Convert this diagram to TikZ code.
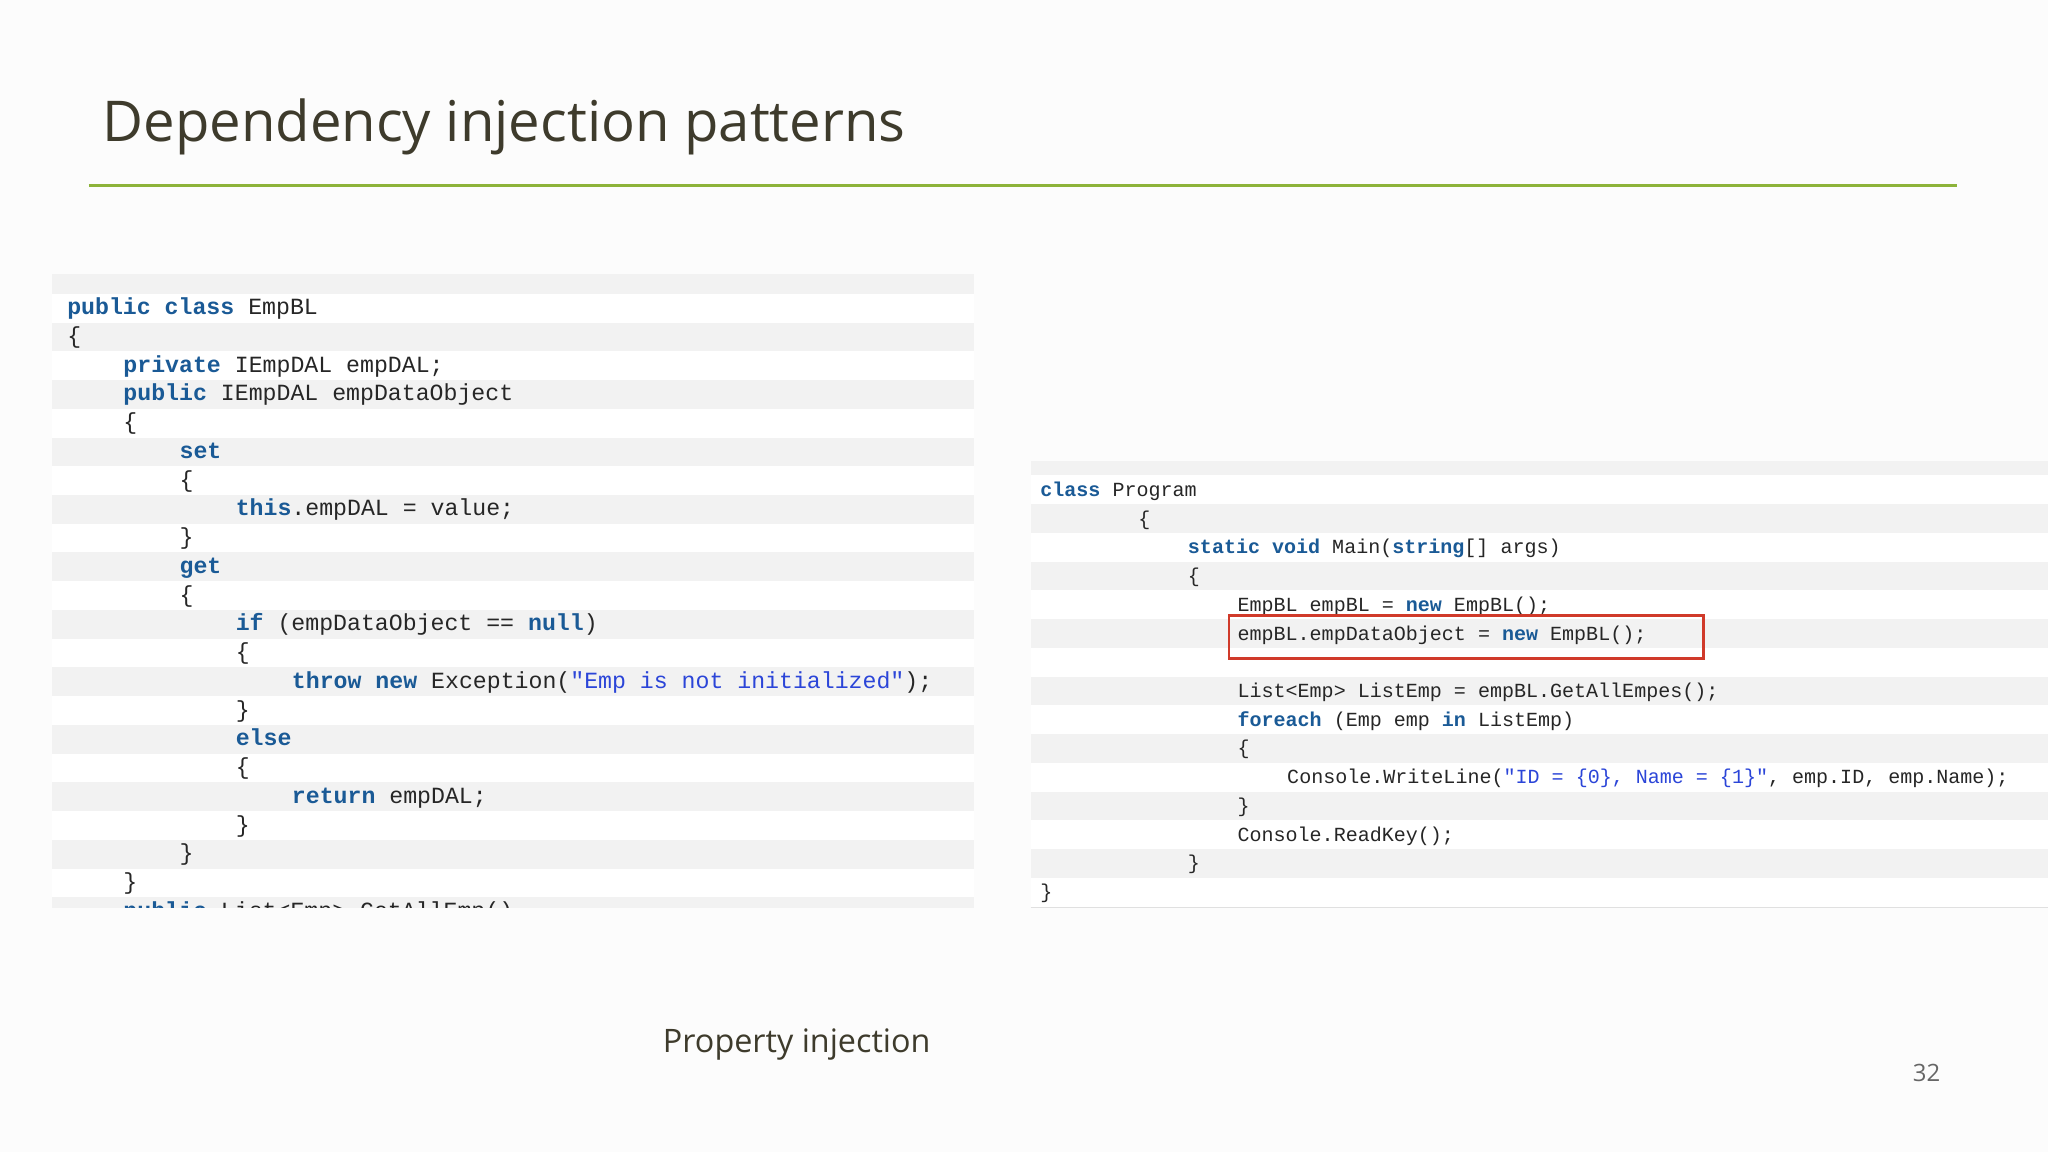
\documentclass[tikz,border=0pt]{standalone}
\usepackage{fontspec}
\setmainfont{Open Sans}
\setmonofont{Liberation Mono}
\definecolor{kwc}{HTML}{1A5A96}
\definecolor{stc}{HTML}{2B45D8}
\definecolor{band}{HTML}{F2F2F2}
\definecolor{titlec}{HTML}{3E3B2C}
\definecolor{greenl}{HTML}{8DB33A}
\definecolor{redb}{HTML}{D03A2A}
\newcommand{\kw}[1]{\textcolor{kwc}{\bfseries #1}}
\newcommand{\st}[1]{\textcolor{stc}{#1}}
\tikzset{code/.style={anchor=base west,inner sep=0pt,font=\fontsize{6.6}{7}\ttfamily,text=black!85},
 rcode/.style={code,font=\fontsize{5.7}{7}\ttfamily}}
\begin{document}
\begin{tikzpicture}[x=0.01306cm,y=-0.01306cm]
\useasboundingbox (0,0) rectangle (1568,882);
\fill[white!98!gray] (0,0) rectangle (1568,882);
\node[anchor=base west,inner sep=0pt,font=\fontsize{16}{18}\selectfont,text=titlec] (title) at (78,108) {Dependency injection patterns};
\coordinate (gl) at (68,142); \coordinate (gr) at (1498,142);
\draw[greenl,line width=1.1pt] (gl) -- (gr);
% left panel
\fill[white] (40,210) rectangle (746,695);
\fill[band] (40,210) rectangle (746,225);
\foreach \i in {1,3,...,19} \fill[band] (40,{236+22*\i-11}) rectangle (746,{236+22*\i+11});
\begin{scope}
\clip (40,200) rectangle (746,695);
\fill[band] (40,{236+22*21-11}) rectangle (746,695);
\foreach \i/\l/\t in {
0/0/{\kw{public class} EmpBL},
1/0/{\{},
2/1/{\kw{private} IEmpDAL empDAL;},
3/1/{\kw{public} IEmpDAL empDataObject},
4/1/{\{},
5/2/{\kw{set}},
6/2/{\{},
7/3/{\kw{this}.empDAL = value;},
8/2/{\}},
9/2/{\kw{get}},
10/2/{\{},
11/3/{\kw{if} (empDataObject == \kw{null})},
12/3/{\{},
13/4/{\kw{throw new} Exception(\st{"Emp is not initialized"});},
14/3/{\}},
15/3/{\kw{else}},
16/3/{\{},
17/4/{\kw{return} empDAL;},
18/3/{\}},
19/2/{\}},
20/1/{\}},
21/1/{\kw{public} List<Emp> GetAllEmp()}}
  \node[code] (l\i) at ({51+43*\l},{236+22*\i+5}) {\t};
\end{scope}
% right panel
\fill[white] (789,353) rectangle (1568,695);
\fill[band] (789,353) rectangle (1568,364);
\foreach \i in {1,3,...,13} \fill[band] (789,{375+22*\i-11}) rectangle (1568,{375+22*\i+11});
\draw[black!12] (789,695) -- (1568,695);
\foreach \i/\x/\t in {
0/796/{\kw{class} Program},
1/871/{\{},
2/909/{\kw{static void} Main(\kw{string}[] args)},
3/909/{\{},
4/947/{EmpBL empBL = \kw{new} EmpBL();},
5/947/{empBL.empDataObject = \kw{new} EmpBL();},
7/947/{List<Emp> ListEmp = empBL.GetAllEmpes();},
8/947/{\kw{foreach} (Emp emp \kw{in} ListEmp)},
9/947/{\{},
10/985/{Console.WriteLine(\st{"ID = \{0\}, Name = \{1\}"}, emp.ID, emp.Name);},
11/947/{\}},
12/947/{Console.ReadKey();},
13/909/{\}},
14/796/{\}}}
  \node[rcode] (r\i) at (\x,{375+22*\i+5}) {\t};
\node[draw=redb,line width=0.75pt,inner sep=0pt,minimum width=363*0.01306cm,minimum height=33*0.01306cm,anchor=north west] (hl) at (940,470) {};
\node[anchor=base,inner sep=0pt,font=\fontsize{9.2}{11}\selectfont,text=titlec] (cap) at (610,806) {Property injection};
\node[anchor=base,inner sep=0pt,font=\fontsize{6.8}{8}\selectfont,text=black!60] (pg) at (1475,828) {32};
\end{tikzpicture}
\end{document}
